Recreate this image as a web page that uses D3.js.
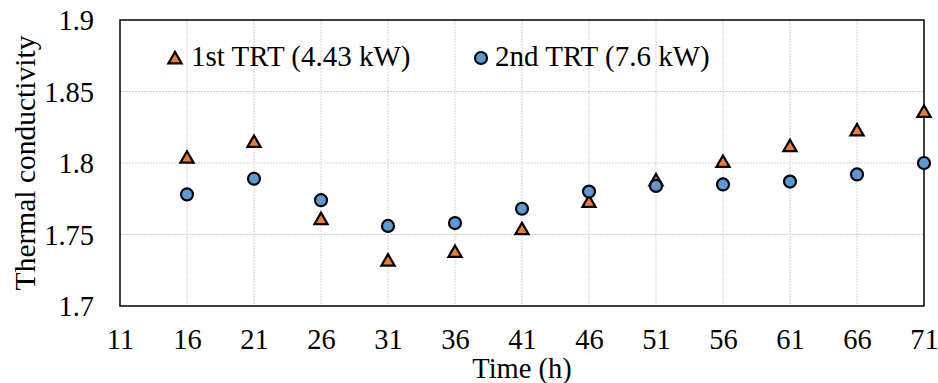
<!DOCTYPE html>
<html>
<head>
<meta charset="utf-8">
<script src="https://cdn.jsdelivr.net/npm/d3@7"></script>
<style>
  body { margin: 0; background: #fff; }
  text { font-family: "Liberation Serif", "Times New Roman", serif; fill: #000; }
</style>
</head>
<body>
<svg id="chart" width="938" height="383"></svg>
<script>
// data
var hours = [16, 21, 26, 31, 36, 41, 46, 51, 56, 61, 66, 71];
var firstTRT = [1.804, 1.815, 1.761, 1.732, 1.738, 1.754, 1.773, 1.788, 1.801, 1.812, 1.823, 1.836];
var secondTRT = [1.778, 1.789, 1.774, 1.756, 1.758, 1.768, 1.780, 1.784, 1.785, 1.787, 1.792, 1.800];
var xTicks = [11, 16, 21, 26, 31, 36, 41, 46, 51, 56, 61, 66, 71];
var yTicks = [1.7, 1.75, 1.8, 1.85, 1.9];
var seriesNames = ["1st TRT (4.43 kW)", "2nd TRT (7.6 kW)"];

var pLeft = 120, pRight = 924, pTop = 20, pBottom = 306;
var fontSize = 28.5;
var orange = "#ED7D31", blue = "#5B9BD5";

var svg = d3.select("#chart");
var x = d3.scaleLinear().domain([11, 71]).range([pLeft, pRight]);
var y = d3.scaleLinear().domain([1.7, 1.9]).range([pBottom, pTop]);

// gridlines
var grid = svg.append("g");
grid.selectAll(".vg").data(xTicks.slice(1, -1)).enter().append("line")
    .attr("x1", d => x(d)).attr("x2", d => x(d))
    .attr("y1", pTop).attr("y2", pBottom)
    .attr("stroke", "#d0d0d0").attr("stroke-width", 1).attr("stroke-dasharray", "2,1");
grid.selectAll(".hg").data(yTicks.slice(1, -1)).enter().append("line")
    .attr("x1", pLeft).attr("x2", pRight)
    .attr("y1", d => y(d)).attr("y2", d => y(d))
    .attr("stroke", "#d0d0d0").attr("stroke-width", 1).attr("stroke-dasharray", "2,1");

// plot frame
svg.append("rect")
    .attr("x", pLeft).attr("y", pTop)
    .attr("width", pRight - pLeft).attr("height", pBottom - pTop)
    .attr("fill", "none").attr("stroke", "#000").attr("stroke-width", 1.5);

// axes
var xAxis = svg.append("g")
    .attr("transform", "translate(0," + pBottom + ")")
    .call(d3.axisBottom(x).tickValues(xTicks).tickSize(0).tickFormat(d3.format("d")));
xAxis.select(".domain").remove();
xAxis.selectAll("text")
    .attr("y", 43).attr("dy", null)
    .style("font-size", fontSize + "px")
    .style("font-family", "Liberation Serif");

var yAxis = svg.append("g")
    .attr("transform", "translate(" + pLeft + ",0)")
    .call(d3.axisLeft(y).tickValues(yTicks).tickSize(0).tickPadding(26).tickFormat(d => String(+d.toFixed(2))));
yAxis.select(".domain").remove();
yAxis.selectAll("text")
    .attr("dy", "0.35em")
    .style("font-size", fontSize + "px")
    .style("font-family", "Liberation Serif");

// axis titles
svg.append("text")
    .attr("x", (pLeft + pRight) / 2).attr("y", 378)
    .attr("text-anchor", "middle")
    .style("font-size", fontSize + "px")
    .text("Time (h)");
svg.append("text")
    .attr("transform", "translate(35," + (pTop + pBottom) / 2 + ") rotate(-90)")
    .attr("text-anchor", "middle")
    .style("font-size", "29.5px")
    .text("Thermal conductivity");

// markers
var tri = d3.symbol().type(d3.symbolTriangle).size(75);
var data1 = hours.map((h, i) => ({x: h, y: firstTRT[i]}));
var data2 = hours.map((h, i) => ({x: h, y: secondTRT[i]}));

svg.append("g").selectAll("path").data(data1).enter().append("path")
    .attr("d", tri)
    .attr("transform", d => "translate(" + x(d.x) + "," + (y(d.y) + 1.5) + ")")
    .attr("fill", orange).attr("stroke", "#000").attr("stroke-width", 2.2);

svg.append("g").selectAll("circle").data(data2).enter().append("circle")
    .attr("cx", d => x(d.x)).attr("cy", d => y(d.y)).attr("r", 6)
    .attr("fill", blue).attr("stroke", "#000").attr("stroke-width", 2.2);

// legend
var leg = svg.append("g");
leg.append("path").attr("d", tri)
    .attr("transform", "translate(175,59.5)")
    .attr("fill", orange).attr("stroke", "#000").attr("stroke-width", 2.2);
leg.append("text").attr("x", 191).attr("y", 66)
    .style("font-size", "29px").text(seriesNames[0]);
leg.append("circle").attr("cx", 481).attr("cy", 58).attr("r", 6)
    .attr("fill", blue).attr("stroke", "#000").attr("stroke-width", 2.2);
leg.append("text").attr("x", 495).attr("y", 66)
    .style("font-size", "29px").text(seriesNames[1]);
</script>
</body>
</html>
